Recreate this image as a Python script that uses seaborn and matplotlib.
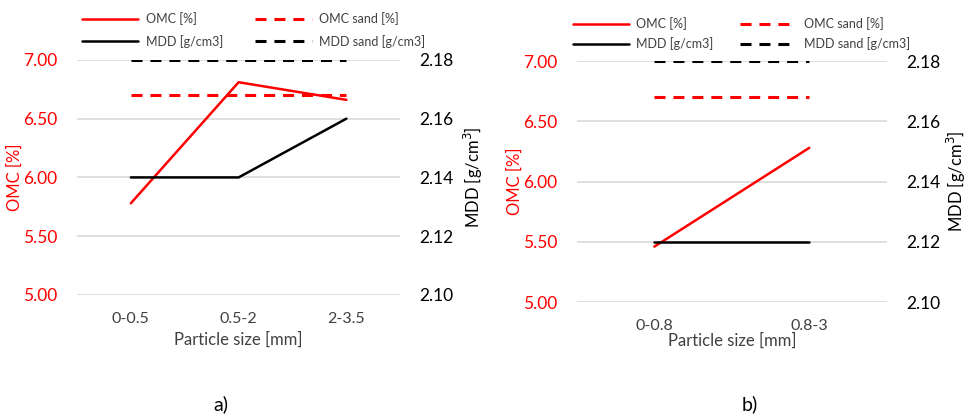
import matplotlib
matplotlib.use("Agg")
import matplotlib.pyplot as plt
import seaborn as sns
import pandas as pd

sns.set_style("white")
plt.rcParams['font.family'] = ['Lato', 'DejaVu Sans']

# ---- data ----
cats_a = ["0-0.5", "0.5-2", "2-3.5"]
omc_a = [5.78, 6.81, 6.66]
omc_sand_a = [6.70, 6.70, 6.70]
mdd_a = [2.14, 2.14, 2.16]
mdd_sand_a = [2.18, 2.18, 2.18]

cats_b = ["0-0.8", "0.8-3"]
omc_b = [5.46, 6.28]
omc_sand_b = [6.70, 6.70]
mdd_b = [2.12, 2.12]
mdd_sand_b = [2.18, 2.18]

left_ticks = [5.00, 5.50, 6.00, 6.50, 7.00]
right_ticks = [2.10, 2.12, 2.14, 2.16, 2.18]

RED = "#ff0000"
BLACK = "#000000"
GRID = "#d9d9d9"
TXT = "#404040"

fig = plt.figure(figsize=(9.68, 4.16), dpi=100)

def panel(rect, cats, omc, omc_sand, mdd, mdd_sand, caption, cap_x, leg_anchor,
          xt_pad, xl_pad, r_lpad, colsp, lsp):
    ax = fig.add_axes(rect)
    df = pd.DataFrame({"cat": cats, "omc": omc, "omc_sand": omc_sand,
                       "mdd": mdd, "mdd_sand": mdd_sand})
    x = list(range(len(cats)))
    df["x"] = x
    sns.lineplot(data=df, x="x", y="omc", ax=ax, color=RED, lw=1.8, label="OMC [%]", legend=False)
    sns.lineplot(data=df, x="x", y="omc_sand", ax=ax, color=RED, lw=2.2,
                 label="OMC sand [%]", legend=False)
    ax.lines[-1].set_dashes([3.6, 2.6])
    ax.set_ylim(5.0, 7.0)
    ax.set_yticks(left_ticks)
    ax.set_yticklabels([f"{t:.2f}" for t in left_ticks], color=RED, fontsize=12.5)
    ax.set_xlim(-0.5, len(cats) - 0.5)
    ax.set_xticks(x)
    ax.set_xticklabels(cats, fontsize=11.5, color=TXT)
    ax.grid(axis="y", color=GRID, lw=1.2)
    ax.set_axisbelow(True)
    ax.tick_params(axis="y", length=0, pad=14)
    ax.tick_params(axis="x", length=0, pad=xt_pad)
    for s in ax.spines.values():
        s.set_visible(False)
    ax.set_ylabel("OMC [%]", color=RED, fontsize=12, labelpad=0)
    ax.set_xlabel("Particle size [mm]", color=TXT, fontsize=12, labelpad=xl_pad)

    ax2 = ax.twinx()
    sns.lineplot(data=df, x="x", y="mdd", ax=ax2, color=BLACK, lw=1.8, label="MDD [g/cm3]", legend=False)
    sns.lineplot(data=df, x="x", y="mdd_sand", ax=ax2, color=BLACK, lw=2.2,
                 label="MDD sand [g/cm3]", legend=False)
    ax2.lines[-1].set_dashes([3.6, 2.6])
    ax2.set_ylim(2.10, 2.18)
    ax2.set_yticks(right_ticks)
    ax2.set_yticklabels([f"{t:.2f}" for t in right_ticks], color=BLACK, fontsize=12.5)
    ax2.tick_params(length=0, pad=14)
    for s in ax2.spines.values():
        s.set_visible(False)
    ax2.set_ylabel("MDD [g/cm$^3$]", color=BLACK, fontsize=12, labelpad=r_lpad)
    ax2.grid(False)

    h1, l1 = ax.get_legend_handles_labels()
    h2, l2 = ax2.get_legend_handles_labels()
    handles = [h1[0], h2[0], h1[1], h2[1]]
    labels = [l1[0], l2[0], l1[1], l2[1]]
    leg = ax.legend(handles, labels, ncol=2, loc="lower left", bbox_to_anchor=leg_anchor,
                    frameon=False, fontsize=9, handlelength=4.5, columnspacing=colsp,
                    handletextpad=0.6, labelspacing=lsp, borderaxespad=0)
    for t in leg.get_texts():
        t.set_color(TXT)
    fig.text(cap_x, 0.015, caption, fontsize=14, ha="center", color=BLACK)
    return ax, ax2

panel([0.0795, 0.291, 0.334, 0.565], cats_a, omc_a, omc_sand_a, mdd_a, mdd_sand_a,
      "a)", 0.228, (0.0, 1.03), 12, 4, 6, 2.6, 0.8)
panel([0.596, 0.274, 0.320, 0.579], cats_b, omc_b, omc_sand_b, mdd_b, mdd_sand_b,
      "b)", 0.775, (-0.03, 1.025), 12, 0, 3, 2.1, 0.55)

fig.savefig("out.png", dpi=100)
